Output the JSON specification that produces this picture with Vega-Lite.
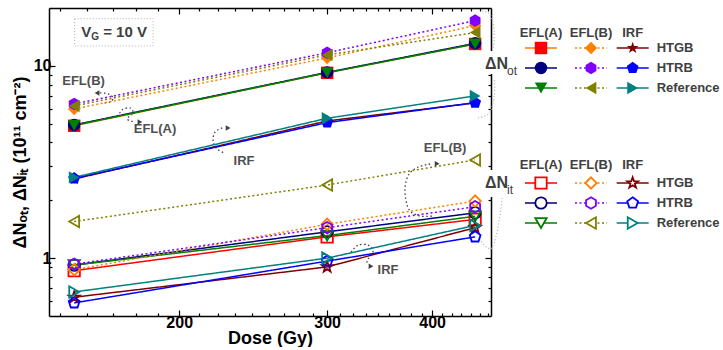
{
  "$schema": "https://vega.github.io/schema/vega-lite/v6.json",
  "padding": {"left": 11, "top": 7, "right": 0, "bottom": 0},
  "bounds": "flush",
  "config": {
    "view": {"stroke": null},
    "font": "Liberation Sans",
    "axis": {"grid": false, "domainColor": "#000", "domainWidth": 1.5, "tickColor": "#000", "tickWidth": 1.2, "labelFontSize": 16, "labelFontWeight": "bold", "labelColor": "#000", "titleFontSize": 18, "titleFontWeight": "bold", "titleColor": "#000"}
  },
  "datasets": {
    "main": [
      {"q":"ot","s":"EFL(A) HTGB","d":150,"v":4.88},{"q":"ot","s":"EFL(A) HTGB","d":300,"v":9.2},{"q":"ot","s":"EFL(A) HTGB","d":450,"v":13.0},
      {"q":"ot","s":"EFL(A) HTRB","d":150,"v":4.93},{"q":"ot","s":"EFL(A) HTRB","d":300,"v":9.25},{"q":"ot","s":"EFL(A) HTRB","d":450,"v":13.1},
      {"q":"ot","s":"EFL(A) Reference","d":150,"v":4.9},{"q":"ot","s":"EFL(A) Reference","d":300,"v":9.22},{"q":"ot","s":"EFL(A) Reference","d":450,"v":13.0},
      {"q":"ot","s":"EFL(B) HTGB","d":150,"v":5.97},{"q":"ot","s":"EFL(B) HTGB","d":300,"v":11.0},{"q":"ot","s":"EFL(B) HTGB","d":450,"v":16.2},
      {"q":"ot","s":"EFL(B) HTRB","d":150,"v":6.34},{"q":"ot","s":"EFL(B) HTRB","d":300,"v":11.7},{"q":"ot","s":"EFL(B) HTRB","d":450,"v":17.2},
      {"q":"ot","s":"EFL(B) Reference","d":150,"v":6.19},{"q":"ot","s":"EFL(B) Reference","d":300,"v":11.4},{"q":"ot","s":"EFL(B) Reference","d":450,"v":14.9},
      {"q":"ot","s":"IRF HTGB","d":150,"v":2.58},{"q":"ot","s":"IRF HTGB","d":300,"v":5.17},{"q":"ot","s":"IRF HTGB","d":450,"v":6.42},
      {"q":"ot","s":"IRF HTRB","d":150,"v":2.6},{"q":"ot","s":"IRF HTRB","d":300,"v":5.07},{"q":"ot","s":"IRF HTRB","d":450,"v":6.44},
      {"q":"ot","s":"IRF Reference","d":150,"v":2.63},{"q":"ot","s":"IRF Reference","d":300,"v":5.34},{"q":"ot","s":"IRF Reference","d":450,"v":6.98},
      {"q":"it","s":"EFL(A) HTGB","d":150,"v":0.86},{"q":"it","s":"EFL(A) HTGB","d":300,"v":1.29},{"q":"it","s":"EFL(A) HTGB","d":450,"v":1.59},
      {"q":"it","s":"EFL(A) HTRB","d":150,"v":0.92},{"q":"it","s":"EFL(A) HTRB","d":300,"v":1.37},{"q":"it","s":"EFL(A) HTRB","d":450,"v":1.72},
      {"q":"it","s":"EFL(A) Reference","d":150,"v":0.92},{"q":"it","s":"EFL(A) Reference","d":300,"v":1.31},{"q":"it","s":"EFL(A) Reference","d":450,"v":1.65},
      {"q":"it","s":"EFL(B) HTGB","d":150,"v":0.87},{"q":"it","s":"EFL(B) HTGB","d":300,"v":1.5},{"q":"it","s":"EFL(B) HTGB","d":450,"v":1.98},
      {"q":"it","s":"EFL(B) HTRB","d":150,"v":0.93},{"q":"it","s":"EFL(B) HTRB","d":300,"v":1.44},{"q":"it","s":"EFL(B) HTRB","d":450,"v":1.85},
      {"q":"it","s":"EFL(B) Reference","d":150,"v":1.55},{"q":"it","s":"EFL(B) Reference","d":300,"v":2.4},{"q":"it","s":"EFL(B) Reference","d":450,"v":3.24},
      {"q":"it","s":"IRF HTGB","d":150,"v":0.626},{"q":"it","s":"IRF HTGB","d":300,"v":0.9},{"q":"it","s":"IRF HTGB","d":450,"v":1.44},
      {"q":"it","s":"IRF HTRB","d":150,"v":0.585},{"q":"it","s":"IRF HTRB","d":300,"v":0.965},{"q":"it","s":"IRF HTRB","d":450,"v":1.29},
      {"q":"it","s":"IRF Reference","d":150,"v":0.667},{"q":"it","s":"IRF Reference","d":300,"v":1.0},{"q":"it","s":"IRF Reference","d":450,"v":1.48}
    ],
    "leg": [
      {"s":"EFL(A) HTGB","m":"EFL(A)","c":"HTGB"},{"s":"EFL(A) HTRB","m":"EFL(A)","c":"HTRB"},{"s":"EFL(A) Reference","m":"EFL(A)","c":"Reference"},
      {"s":"EFL(B) HTGB","m":"EFL(B)","c":"HTGB"},{"s":"EFL(B) HTRB","m":"EFL(B)","c":"HTRB"},{"s":"EFL(B) Reference","m":"EFL(B)","c":"Reference"},
      {"s":"IRF HTGB","m":"IRF","c":"HTGB"},{"s":"IRF HTRB","m":"IRF","c":"HTRB"},{"s":"IRF Reference","m":"IRF","c":"Reference"}
    ],
    "ann": [
      {"d":153.9,"v":8.35,"t":"EFL(B)"},{"d":187.2,"v":4.7,"t":"EFL(A)"},{"d":238.9,"v":3.2,"t":"IRF"},{"d":414.5,"v":3.74,"t":"EFL(B)"},{"d":354.5,"v":0.866,"t":"IRF"}
    ],
    "arcs": [
      {"g":1,"i":1,"d":161.0,"v":7.235},{"g":1,"i":2,"d":164.6,"v":7.149},{"g":1,"i":3,"d":166.9,"v":6.813},{"g":1,"i":4,"d":165.5,"v":6.494},{"g":1,"i":5,"d":162.8,"v":6.417},
      {"g":2,"i":1,"d":169.1,"v":5.425},{"g":2,"i":2,"d":171.0,"v":5.901},{"g":2,"i":3,"d":174.8,"v":6.042},{"g":2,"i":4,"d":176.2,"v":5.692},{"g":2,"i":5,"d":173.4,"v":5.297},{"g":2,"i":6,"d":176.7,"v":5.109},
      {"g":3,"i":1,"d":225.0,"v":4.754},{"g":3,"i":2,"d":220.7,"v":4.531},{"g":3,"i":3,"d":219.5,"v":4.069},{"g":3,"i":4,"d":221.9,"v":3.696},{"g":3,"i":5,"d":226.2,"v":3.523},
      {"g":4,"i":1,"d":397.8,"v":3.087},{"g":4,"i":2,"d":384.9,"v":2.978},{"g":4,"i":3,"d":375.5,"v":2.738},{"g":4,"i":4,"d":371.4,"v":2.343},{"g":4,"i":5,"d":372.5,"v":1.981},{"g":4,"i":6,"d":376.6,"v":1.757},{"g":4,"i":7,"d":387.0,"v":1.655},{"g":4,"i":8,"d":400.0,"v":1.655},
      {"g":5,"i":1,"d":320.3,"v":1.0746},{"g":5,"i":2,"d":326.6,"v":1.1688},{"g":5,"i":3,"d":335.6,"v":1.1688},{"g":5,"i":4,"d":340.2,"v":1.0877},{"g":5,"i":5,"d":335.6,"v":0.988},{"g":5,"i":6,"d":333.8,"v":0.9194}
    ],
    "braces": [
      {"g":1,"i":1,"d":458.7,"v":19.34},{"g":1,"i":2,"d":469.0,"v":18.44},{"g":1,"i":3,"d":474.2,"v":15.22},{"g":1,"i":4,"d":472.9,"v":12.26},
      {"g":2,"i":1,"d":453.7,"v":5.36},{"g":2,"i":2,"d":467.8,"v":5.69},{"g":2,"i":3,"d":474.2,"v":6.98},{"g":2,"i":4,"d":474.2,"v":8.55},
      {"g":3,"i":1,"d":484.6,"v":2.054},{"g":3,"i":2,"d":480.6,"v":1.558},{"g":3,"i":3,"d":474.2,"v":1.197},{"g":3,"i":4,"d":469.0,"v":1.114},
      {"g":4,"i":1,"d":455.0,"v":1.256},{"g":4,"i":2,"d":462.7,"v":1.155},{"g":4,"i":3,"d":469.0,"v":1.114}
    ],
    "arrl": [{"d":159.7,"v":7.235}],
    "arrr": [{"d":179.6,"v":5.109},{"d":228.7,"v":4.754},{"d":405.5,"v":3.1},{"d":338.3,"v":0.9085}],
    "box": [{"d1":150.2,"d2":186.2,"v1":17.6,"v2":12.7}],
    "vg": [{"d":152.9,"v":15.0}]
  },
  "spacing": 0,
  "hconcat": [
    {
      "width": 442, "height": 308,
      "data": {"name": "main"},
      "layer": [
        {
          "data": {"name": "braces"},
          "mark": {"type": "line", "interpolate": "cardinal", "color": "#b8b8b8", "strokeWidth": 1.2, "strokeDash": [1.2, 2]},
          "encoding": {
            "x": {"field": "d", "type": "quantitative", "scale": {"type": "log", "domain": [140, 470], "nice": false}, "axis": null},
            "y": {"field": "v", "type": "quantitative", "scale": {"type": "log", "domain": [0.5, 20], "nice": false}, "axis": null},
            "detail": {"field": "g"},
            "order": {"field": "i"}
          }
        },
        {
          "data": {"name": "arcs"},
          "mark": {"type": "line", "interpolate": "cardinal", "color": "#404040", "strokeWidth": 1.3, "strokeDash": [1.5, 2.5]},
          "encoding": {
            "x": {"field": "d", "type": "quantitative", "scale": {"type": "log", "domain": [140, 470], "nice": false}, "axis": null},
            "y": {"field": "v", "type": "quantitative", "scale": {"type": "log", "domain": [0.5, 20], "nice": false}, "axis": null},
            "detail": {"field": "g"},
            "order": {"field": "i"}
          }
        },
        {
          "data": {"name": "arrl"},
          "mark": {"type": "point", "shape": "triangle-left", "filled": true, "color": "#404040", "opacity": 1, "size": 30},
          "encoding": {
            "x": {"field": "d", "type": "quantitative", "scale": {"type": "log", "domain": [140, 470], "nice": false}, "axis": null},
            "y": {"field": "v", "type": "quantitative", "scale": {"type": "log", "domain": [0.5, 20], "nice": false}, "axis": null}
          }
        },
        {
          "data": {"name": "arrr"},
          "mark": {"type": "point", "shape": "triangle-right", "filled": true, "color": "#404040", "opacity": 1, "size": 30},
          "encoding": {
            "x": {"field": "d", "type": "quantitative", "scale": {"type": "log", "domain": [140, 470], "nice": false}, "axis": null},
            "y": {"field": "v", "type": "quantitative", "scale": {"type": "log", "domain": [0.5, 20], "nice": false}, "axis": null}
          }
        },
        {
          "mark": {"type": "line", "strokeWidth": 1.5},
          "encoding": {
            "x": {"field": "d", "type": "quantitative", "scale": {"type": "log", "domain": [140, 470], "nice": false},
              "axis": {"orient": "bottom", "title": "Dose (Gy)", "values": [144.44,155.56,166.67,177.78,188.89,200,211.11,222.22,233.33,244.44,255.56,266.67,277.78,288.89,300,311.11,322.22,333.33,344.44,355.56,366.67,377.78,388.89,400,411.11,422.22,433.33,444.44,455.56,466.67],
                "labelExpr": "datum.value==200?'200':datum.value==300?'300':datum.value==400?'400':''",
                "tickSize": {"condition": {"test": "datum.value==200||datum.value==300||datum.value==400", "value": -6}, "value": -3},
                "labelPadding": 4, "titlePadding": -1}},
            "y": {"field": "v", "type": "quantitative", "scale": {"type": "log", "domain": [0.5, 20], "nice": false},
              "axis": {"orient": "left", "title": "ΔNₒₜ, ΔNᵢₜ (10¹¹ cm⁻²)", "values": [0.6,0.7,0.8,0.9,1,2,3,4,5,6,7,8,9,10],
                "labelExpr": "datum.value==1?'1':datum.value==10?'10':''",
                "tickSize": {"condition": {"test": "datum.value==1||datum.value==10", "value": -6}, "value": -3},
                "labelPadding": 4, "titlePadding": 4}},
            "stroke": {"condition": {"test": "datum.q=='ot' && datum.s=='EFL(A) HTGB'", "value": "#FF8000"}, "field": "s", "type": "nominal", "legend": null,
              "scale": {"domain": ["EFL(A) HTGB","EFL(A) HTRB","EFL(A) Reference","EFL(B) HTGB","EFL(B) HTRB","EFL(B) Reference","IRF HTGB","IRF HTRB","IRF Reference"],
                "range": ["#FF0000","#000080","#008000","#FF8000","#8000FF","#808000","#800000","#0000FF","#008080"]}},
            "strokeDash": {"field": "s", "type": "nominal", "legend": null,
              "scale": {"domain": ["EFL(A) HTGB","EFL(A) HTRB","EFL(A) Reference","EFL(B) HTGB","EFL(B) HTRB","EFL(B) Reference","IRF HTGB","IRF HTRB","IRF Reference"],
                "range": [[1,0],[1,0],[1,0],[2,2.5],[2,2.5],[2,2.5],[1,0],[1,0],[1,0]]}},
            "detail": {"field": "q"}
          }
        },
        {
          "transform": [{"filter": "datum.q=='ot'"}],
          "mark": {"type": "point", "filled": true, "opacity": 1, "size": 155},
          "encoding": {
            "x": {"field": "d", "type": "quantitative", "scale": {"type": "log", "domain": [140, 470], "nice": false},
              "axis": {"orient": "top", "title": null, "labels": false, "values": [144.44,155.56,166.67,177.78,188.89,200,211.11,222.22,233.33,244.44,255.56,266.67,277.78,288.89,300,311.11,322.22,333.33,344.44,355.56,366.67,377.78,388.89,400,411.11,422.22,433.33,444.44,455.56,466.67],
                "tickSize": {"condition": {"test": "datum.value==200||datum.value==300||datum.value==400", "value": -6}, "value": -3}}},
            "y": {"field": "v", "type": "quantitative", "scale": {"type": "log", "domain": [0.5, 20], "nice": false},
              "axis": {"orient": "right", "title": null, "labels": false, "values": [0.6,0.7,0.8,0.9,1,2,3,4,5,6,7,8,9,10],
                "tickSize": {"condition": {"test": "datum.value==1||datum.value==10", "value": -6}, "value": -3}}},
            "color": {"field": "s", "type": "nominal", "legend": null,
              "scale": {"domain": ["EFL(A) HTGB","EFL(A) HTRB","EFL(A) Reference","EFL(B) HTGB","EFL(B) HTRB","EFL(B) Reference","IRF HTGB","IRF HTRB","IRF Reference"],
                "range": ["#FF0000","#000080","#008000","#FF8000","#8000FF","#808000","#800000","#0000FF","#008080"]}},
            "shape": {"field": "s", "type": "nominal", "legend": null,
              "scale": {"domain": ["EFL(A) HTGB","EFL(A) HTRB","EFL(A) Reference","EFL(B) HTGB","EFL(B) HTRB","EFL(B) Reference","IRF HTGB","IRF HTRB","IRF Reference"],
                "range": ["square","circle","triangle-down","diamond","M0,-1L0.866,-0.5L0.866,0.5L0,1L-0.866,0.5L-0.866,-0.5Z","triangle-left","M0,-1L0.235,-0.324L0.951,-0.309L0.38,0.124L0.588,0.809L0,0.4L-0.588,0.809L-0.38,0.124L-0.951,-0.309L-0.235,-0.324Z","M0,-1L0.951,-0.309L0.588,0.809L-0.588,0.809L-0.951,-0.309Z","triangle-right"]}}
          }
        },
        {
          "transform": [{"filter": "datum.q=='it'"}],
          "mark": {"type": "point", "filled": false, "opacity": 1, "size": 130, "strokeWidth": 1.8},
          "encoding": {
            "x": {"field": "d", "type": "quantitative", "scale": {"type": "log", "domain": [140, 470], "nice": false}, "axis": null},
            "y": {"field": "v", "type": "quantitative", "scale": {"type": "log", "domain": [0.5, 20], "nice": false}, "axis": null},
            "color": {"field": "s", "type": "nominal", "legend": null,
              "scale": {"domain": ["EFL(A) HTGB","EFL(A) HTRB","EFL(A) Reference","EFL(B) HTGB","EFL(B) HTRB","EFL(B) Reference","IRF HTGB","IRF HTRB","IRF Reference"],
                "range": ["#FF0000","#000080","#008000","#FF8000","#8000FF","#808000","#800000","#0000FF","#008080"]}},
            "shape": {"field": "s", "type": "nominal", "legend": null,
              "scale": {"domain": ["EFL(A) HTGB","EFL(A) HTRB","EFL(A) Reference","EFL(B) HTGB","EFL(B) HTRB","EFL(B) Reference","IRF HTGB","IRF HTRB","IRF Reference"],
                "range": ["square","circle","triangle-down","diamond","M0,-1L0.866,-0.5L0.866,0.5L0,1L-0.866,0.5L-0.866,-0.5Z","triangle-left","M0,-1L0.235,-0.324L0.951,-0.309L0.38,0.124L0.588,0.809L0,0.4L-0.588,0.809L-0.38,0.124L-0.951,-0.309L-0.235,-0.324Z","M0,-1L0.951,-0.309L0.588,0.809L-0.588,0.809L-0.951,-0.309Z","triangle-right"]}}
          }
        },
        {
          "data": {"name": "ann"},
          "mark": {"type": "text", "fontSize": 13, "fontWeight": "bold", "color": "#505050"},
          "encoding": {
            "x": {"field": "d", "type": "quantitative", "scale": {"type": "log", "domain": [140, 470], "nice": false}, "axis": null},
            "y": {"field": "v", "type": "quantitative", "scale": {"type": "log", "domain": [0.5, 20], "nice": false}, "axis": null},
            "text": {"field": "t"}
          }
        },
        {
          "data": {"name": "box"},
          "mark": {"type": "rect", "fill": null, "stroke": "#b0b0b0", "strokeWidth": 1, "strokeDash": [1, 2]},
          "encoding": {
            "x": {"field": "d1", "type": "quantitative", "scale": {"type": "log", "domain": [140, 470], "nice": false}, "axis": null},
            "x2": {"field": "d2"},
            "y": {"field": "v1", "type": "quantitative", "scale": {"type": "log", "domain": [0.5, 20], "nice": false}, "axis": null},
            "y2": {"field": "v2"}
          }
        },
        {
          "data": {"name": "vg"},
          "layer": [
            {"mark": {"type": "text", "text": "V", "align": "left", "fontSize": 15, "fontWeight": "bold", "color": "#404040"}},
            {"mark": {"type": "text", "text": "G", "align": "left", "dx": 10, "dy": 5, "fontSize": 10, "fontWeight": "bold", "color": "#404040"}},
            {"mark": {"type": "text", "text": "= 10 V", "align": "left", "dx": 22, "fontSize": 15, "fontWeight": "bold", "color": "#404040"}}
          ],
          "encoding": {
            "x": {"field": "d", "type": "quantitative", "scale": {"type": "log", "domain": [140, 470], "nice": false}, "axis": null},
            "y": {"field": "v", "type": "quantitative", "scale": {"type": "log", "domain": [0.5, 20], "nice": false}, "axis": null}
          }
        }
      ],
      "resolve": {"axis": {"x": "independent", "y": "independent"}}
    },
    {
      "spacing": 35,
      "bounds": "flush",
      "vconcat": [
        {
          "width": 166.67, "height": 100,
          "data": {"name": "leg"},
          "layer": [
            {
              "data": {"values": [{"k": 1}]},
              "mark": {"type": "rect", "fill": "white", "xOffset": -7, "x2Offset": 25, "yOffset": -17, "y2Offset": 6},
              "encoding": {
                "x": {"datum": "dn", "type": "nominal", "scale": {"type": "point", "domain": ["dn","s1","s2","s3","s4","s5","EFL(A)","s7","s8","s9","s10","s11","EFL(B)","s13","s14","s15","s16","IRF","s18","s19","lab"], "padding": 0}, "axis": null},
                "x2": {"datum": "dn"},
                "y": {"datum": "HTRB", "type": "nominal", "scale": {"type": "point", "domain": ["hdr","HTGB","HTRB","Reference"], "padding": 1}, "axis": null},
                "y2": {"datum": "HTRB"}
              }
            },
            {
              "mark": {"type": "rule", "strokeWidth": 1.5, "xOffset": -16, "x2Offset": 16},
              "encoding": {
                "x": {"field": "m", "type": "nominal", "scale": {"type": "point", "domain": ["dn","s1","s2","s3","s4","s5","EFL(A)","s7","s8","s9","s10","s11","EFL(B)","s13","s14","s15","s16","IRF","s18","s19","lab"], "padding": 0}, "axis": null},
                "x2": {"field": "m"},
                "y": {"field": "c", "type": "nominal", "scale": {"type": "point", "domain": ["hdr","HTGB","HTRB","Reference"], "padding": 1}, "axis": null},
                "stroke": {"condition": {"test": "datum.s=='EFL(A) HTGB'", "value": "#FF8000"}, "field": "s", "type": "nominal", "legend": null,
                  "scale": {"domain": ["EFL(A) HTGB","EFL(A) HTRB","EFL(A) Reference","EFL(B) HTGB","EFL(B) HTRB","EFL(B) Reference","IRF HTGB","IRF HTRB","IRF Reference"],
                    "range": ["#FF0000","#000080","#008000","#FF8000","#8000FF","#808000","#800000","#0000FF","#008080"]}},
                "strokeDash": {"field": "s", "type": "nominal", "legend": null,
                  "scale": {"domain": ["EFL(A) HTGB","EFL(A) HTRB","EFL(A) Reference","EFL(B) HTGB","EFL(B) HTRB","EFL(B) Reference","IRF HTGB","IRF HTRB","IRF Reference"],
                    "range": [[1,0],[1,0],[1,0],[2,2.5],[2,2.5],[2,2.5],[1,0],[1,0],[1,0]]}}
              }
            },
            {
              "mark": {"type": "point", "filled": true, "opacity": 1, "size": 155},
              "encoding": {
                "x": {"field": "m", "type": "nominal", "scale": {"type": "point", "domain": ["dn","s1","s2","s3","s4","s5","EFL(A)","s7","s8","s9","s10","s11","EFL(B)","s13","s14","s15","s16","IRF","s18","s19","lab"], "padding": 0}, "axis": null},
                "y": {"field": "c", "type": "nominal", "scale": {"type": "point", "domain": ["hdr","HTGB","HTRB","Reference"], "padding": 1}, "axis": null},
                "color": {"field": "s", "type": "nominal", "legend": null,
                  "scale": {"domain": ["EFL(A) HTGB","EFL(A) HTRB","EFL(A) Reference","EFL(B) HTGB","EFL(B) HTRB","EFL(B) Reference","IRF HTGB","IRF HTRB","IRF Reference"],
                    "range": ["#FF0000","#000080","#008000","#FF8000","#8000FF","#808000","#800000","#0000FF","#008080"]}},
                "shape": {"field": "s", "type": "nominal", "legend": null,
                  "scale": {"domain": ["EFL(A) HTGB","EFL(A) HTRB","EFL(A) Reference","EFL(B) HTGB","EFL(B) HTRB","EFL(B) Reference","IRF HTGB","IRF HTRB","IRF Reference"],
                    "range": ["square","circle","triangle-down","diamond","M0,-1L0.866,-0.5L0.866,0.5L0,1L-0.866,0.5L-0.866,-0.5Z","triangle-left","M0,-1L0.235,-0.324L0.951,-0.309L0.38,0.124L0.588,0.809L0,0.4L-0.588,0.809L-0.38,0.124L-0.951,-0.309L-0.235,-0.324Z","M0,-1L0.951,-0.309L0.588,0.809L-0.588,0.809L-0.951,-0.309Z","triangle-right"]}}
              }
            },
            {
              "data": {"values": [{"h":"EFL(A)"},{"h":"EFL(B)"},{"h":"IRF"}]},
              "mark": {"type": "text", "fontSize": 13, "fontWeight": "bold", "color": "#404040", "dy": 5},
              "encoding": {
                "x": {"field": "h", "type": "nominal", "scale": {"type": "point", "domain": ["dn","s1","s2","s3","s4","s5","EFL(A)","s7","s8","s9","s10","s11","EFL(B)","s13","s14","s15","s16","IRF","s18","s19","lab"], "padding": 0}, "axis": null},
                "y": {"datum": "hdr", "type": "nominal", "scale": {"type": "point", "domain": ["hdr","HTGB","HTRB","Reference"], "padding": 1}, "axis": null},
                "text": {"field": "h"}
              }
            },
            {
              "data": {"values": [{"r":"HTGB"},{"r":"HTRB"},{"r":"Reference"}]},
              "mark": {"type": "text", "fontSize": 13, "fontWeight": "bold", "color": "#404040", "align": "left", "dx": -1},
              "encoding": {
                "x": {"datum": "lab", "type": "nominal", "scale": {"type": "point", "domain": ["dn","s1","s2","s3","s4","s5","EFL(A)","s7","s8","s9","s10","s11","EFL(B)","s13","s14","s15","s16","IRF","s18","s19","lab"], "padding": 0}, "axis": null},
                "y": {"field": "r", "type": "nominal", "scale": {"type": "point", "domain": ["hdr","HTGB","HTRB","Reference"], "padding": 1}, "axis": null},
                "text": {"field": "r"}
              }
            },
            {
              "data": {"values": [{"t":"ΔN"}]},
              "layer": [
                {"mark": {"type": "text", "fontSize": 16, "fontWeight": "bold", "color": "#404040", "align": "left", "dx": -6, "dy": -4}, "encoding": {"text": {"field": "t"}}},
                {"mark": {"type": "text", "text": "ot", "fontSize": 12, "color": "#404040", "align": "left", "dx": 16, "dy": 3}}
              ],
              "encoding": {
                "x": {"datum": "dn", "type": "nominal", "scale": {"type": "point", "domain": ["dn","s1","s2","s3","s4","s5","EFL(A)","s7","s8","s9","s10","s11","EFL(B)","s13","s14","s15","s16","IRF","s18","s19","lab"], "padding": 0}, "axis": null},
                "y": {"datum": "HTRB", "type": "nominal", "scale": {"type": "point", "domain": ["hdr","HTGB","HTRB","Reference"], "padding": 1}, "axis": null}
              }
            }
          ]
        },
        {
          "width": 166.67, "height": 100,
          "data": {"name": "leg"},
          "layer": [
            {
              "data": {"values": [{"k": 1}]},
              "mark": {"type": "rect", "fill": "white", "xOffset": -7, "x2Offset": 25, "yOffset": -13, "y2Offset": 14},
              "encoding": {
                "x": {"datum": "dn", "type": "nominal", "scale": {"type": "point", "domain": ["dn","s1","s2","s3","s4","s5","EFL(A)","s7","s8","s9","s10","s11","EFL(B)","s13","s14","s15","s16","IRF","s18","s19","lab"], "padding": 0}, "axis": null},
                "x2": {"datum": "dn"},
                "y": {"datum": "HTGB", "type": "nominal", "scale": {"type": "point", "domain": ["hdr","HTGB","HTRB","Reference"], "padding": 1}, "axis": null},
                "y2": {"datum": "HTGB"}
              }
            },
            {
              "mark": {"type": "rule", "strokeWidth": 1.5, "xOffset": -16, "x2Offset": 16},
              "encoding": {
                "x": {"field": "m", "type": "nominal", "scale": {"type": "point", "domain": ["dn","s1","s2","s3","s4","s5","EFL(A)","s7","s8","s9","s10","s11","EFL(B)","s13","s14","s15","s16","IRF","s18","s19","lab"], "padding": 0}, "axis": null},
                "x2": {"field": "m"},
                "y": {"field": "c", "type": "nominal", "scale": {"type": "point", "domain": ["hdr","HTGB","HTRB","Reference"], "padding": 1}, "axis": null},
                "stroke": {"field": "s", "type": "nominal", "legend": null,
                  "scale": {"domain": ["EFL(A) HTGB","EFL(A) HTRB","EFL(A) Reference","EFL(B) HTGB","EFL(B) HTRB","EFL(B) Reference","IRF HTGB","IRF HTRB","IRF Reference"],
                    "range": ["#FF0000","#000080","#008000","#FF8000","#8000FF","#808000","#800000","#0000FF","#008080"]}},
                "strokeDash": {"field": "s", "type": "nominal", "legend": null,
                  "scale": {"domain": ["EFL(A) HTGB","EFL(A) HTRB","EFL(A) Reference","EFL(B) HTGB","EFL(B) HTRB","EFL(B) Reference","IRF HTGB","IRF HTRB","IRF Reference"],
                    "range": [[1,0],[1,0],[1,0],[2,2.5],[2,2.5],[2,2.5],[1,0],[1,0],[1,0]]}}
              }
            },
            {
              "mark": {"type": "point", "filled": true, "fill": "white", "opacity": 1, "size": 130, "strokeWidth": 1.8},
              "encoding": {
                "x": {"field": "m", "type": "nominal", "scale": {"type": "point", "domain": ["dn","s1","s2","s3","s4","s5","EFL(A)","s7","s8","s9","s10","s11","EFL(B)","s13","s14","s15","s16","IRF","s18","s19","lab"], "padding": 0}, "axis": null},
                "y": {"field": "c", "type": "nominal", "scale": {"type": "point", "domain": ["hdr","HTGB","HTRB","Reference"], "padding": 1}, "axis": null},
                "stroke": {"field": "s", "type": "nominal", "legend": null,
                  "scale": {"domain": ["EFL(A) HTGB","EFL(A) HTRB","EFL(A) Reference","EFL(B) HTGB","EFL(B) HTRB","EFL(B) Reference","IRF HTGB","IRF HTRB","IRF Reference"],
                    "range": ["#FF0000","#000080","#008000","#FF8000","#8000FF","#808000","#800000","#0000FF","#008080"]}},
                "shape": {"field": "s", "type": "nominal", "legend": null,
                  "scale": {"domain": ["EFL(A) HTGB","EFL(A) HTRB","EFL(A) Reference","EFL(B) HTGB","EFL(B) HTRB","EFL(B) Reference","IRF HTGB","IRF HTRB","IRF Reference"],
                    "range": ["square","circle","triangle-down","diamond","M0,-1L0.866,-0.5L0.866,0.5L0,1L-0.866,0.5L-0.866,-0.5Z","triangle-left","M0,-1L0.235,-0.324L0.951,-0.309L0.38,0.124L0.588,0.809L0,0.4L-0.588,0.809L-0.38,0.124L-0.951,-0.309L-0.235,-0.324Z","M0,-1L0.951,-0.309L0.588,0.809L-0.588,0.809L-0.951,-0.309Z","triangle-right"]}}
              }
            },
            {
              "data": {"values": [{"h":"EFL(A)"},{"h":"EFL(B)"},{"h":"IRF"}]},
              "mark": {"type": "text", "fontSize": 13, "fontWeight": "bold", "color": "#404040", "dy": 2},
              "encoding": {
                "x": {"field": "h", "type": "nominal", "scale": {"type": "point", "domain": ["dn","s1","s2","s3","s4","s5","EFL(A)","s7","s8","s9","s10","s11","EFL(B)","s13","s14","s15","s16","IRF","s18","s19","lab"], "padding": 0}, "axis": null},
                "y": {"datum": "hdr", "type": "nominal", "scale": {"type": "point", "domain": ["hdr","HTGB","HTRB","Reference"], "padding": 1}, "axis": null},
                "text": {"field": "h"}
              }
            },
            {
              "data": {"values": [{"r":"HTGB"},{"r":"HTRB"},{"r":"Reference"}]},
              "mark": {"type": "text", "fontSize": 13, "fontWeight": "bold", "color": "#404040", "align": "left", "dx": -1},
              "encoding": {
                "x": {"datum": "lab", "type": "nominal", "scale": {"type": "point", "domain": ["dn","s1","s2","s3","s4","s5","EFL(A)","s7","s8","s9","s10","s11","EFL(B)","s13","s14","s15","s16","IRF","s18","s19","lab"], "padding": 0}, "axis": null},
                "y": {"field": "r", "type": "nominal", "scale": {"type": "point", "domain": ["hdr","HTGB","HTRB","Reference"], "padding": 1}, "axis": null},
                "text": {"field": "r"}
              }
            },
            {
              "data": {"values": [{"t":"ΔN"}]},
              "layer": [
                {"mark": {"type": "text", "fontSize": 16, "fontWeight": "bold", "color": "#404040", "align": "left", "dx": -6}, "encoding": {"text": {"field": "t"}}},
                {"mark": {"type": "text", "text": "it", "fontSize": 12, "color": "#404040", "align": "left", "dx": 16, "dy": 7}}
              ],
              "encoding": {
                "x": {"datum": "dn", "type": "nominal", "scale": {"type": "point", "domain": ["dn","s1","s2","s3","s4","s5","EFL(A)","s7","s8","s9","s10","s11","EFL(B)","s13","s14","s15","s16","IRF","s18","s19","lab"], "padding": 0}, "axis": null},
                "y": {"datum": "HTGB", "type": "nominal", "scale": {"type": "point", "domain": ["hdr","HTGB","HTRB","Reference"], "padding": 1}, "axis": null}
              }
            }
          ]
        }
      ]
    }
  ]
}
